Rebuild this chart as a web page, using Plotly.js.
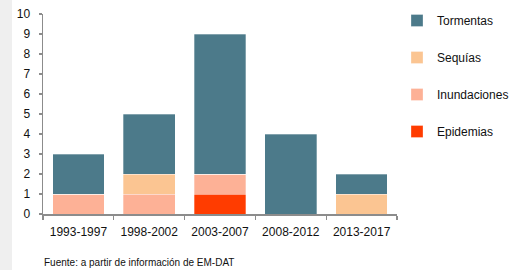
<!DOCTYPE html>
<html><head><meta charset="utf-8">
<script src="https://cdn.plot.ly/plotly-3.0.1.min.js"></script>
<style>
html,body{margin:0;padding:0;background:#fff;}
#strip{position:absolute;left:0;top:0;width:12px;height:270px;background:#efefef;}
#chart{position:absolute;left:0;top:0;width:514px;height:270px;}
</style></head>
<body><div id="strip"></div><div id="chart"></div>
<script>
const categories = ["1993-1997","1998-2002","2003-2007","2008-2012","2013-2017"];
const epidemias = [0,0,1,0,0];
const inundaciones = [1,1,1,0,0];
const sequias = [0,1,0,0,1];
const tormentas = [2,3,7,4,1];
const yTicks = [0,1,2,3,4,5,6,7,8,9,10];
const sourceText = "Fuente: a partir de información de EM-DAT";

function tr(name, y, color, g, rank){
  return {type:"bar", name:name, x:categories, y:y, legendgroup:g, legendrank:rank,
    marker:{color:color, line:{color:"rgba(255,255,255,0.6)", width:0.5}}, hoverinfo:"skip"};
}
const data = [
  tr("Epidemias", epidemias, "#ff3c00", "a", 4),
  tr("Inundaciones", inundaciones, "#fdb196", "b", 3),
  tr("Sequías", sequias, "#fbc592", "c", 2),
  tr("Tormentas", tormentas, "#4c7a8a", "d", 1)
];
const layout = {
  width:514, height:270,
  margin:{l:43, r:117, t:14, b:56, autoexpand:false},
  paper_bgcolor:"rgba(0,0,0,0)", plot_bgcolor:"rgba(0,0,0,0)",
  barmode:"stack", bargap:0.27,
  font:{family:"Liberation Sans, Arial, sans-serif", size:12, color:"#111"},
  showlegend:true,
  legend:{x:1.0, xanchor:"left", xref:"paper", y:1.04, yanchor:"top", traceorder:"grouped",
    tracegroupgap:18, font:{size:12}, itemwidth:30, bgcolor:"rgba(0,0,0,0)"},
  xaxis:{type:"category", showline:true, linecolor:"#8c8c8c", linewidth:1.5,
    ticks:"outside", tickson:"boundaries", ticklen:4, tickcolor:"#8c8c8c", tickwidth:1.2,
    showgrid:false, zeroline:false, ticklabelstandoff:6, tickfont:{size:12}},
  yaxis:{range:[0,10], tickvals:yTicks, showline:true, linecolor:"#8c8c8c", linewidth:1.5,
    ticks:"outside", ticklen:3, tickcolor:"#8c8c8c", tickwidth:1.2, showgrid:false, zeroline:false,
    ticklabelstandoff:6, tickfont:{size:12}},
  annotations:[{text:sourceText, xref:"paper", yref:"paper", x:-0.003, y:-0.24, xanchor:"left", yanchor:"middle",
    showarrow:false, font:{size:10, color:"#111"}}]
};
Plotly.newPlot("chart", data, layout, {displayModeBar:false, staticPlot:true});
</script></body></html>
